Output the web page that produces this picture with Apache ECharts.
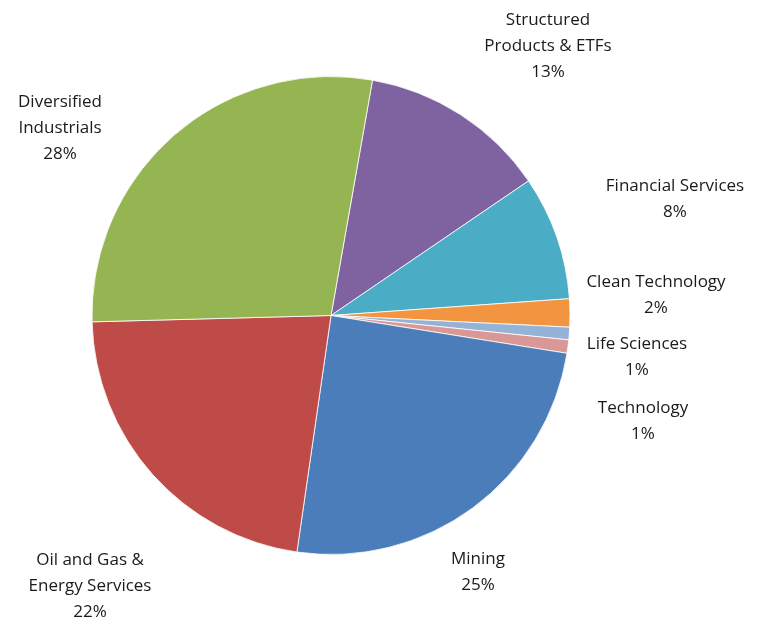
<!DOCTYPE html>
<html>
<head>
<meta charset="utf-8">
<script src="https://cdn.jsdelivr.net/npm/echarts@6/dist/echarts.min.js"></script>
<style>
html,body{margin:0;padding:0;background:#fff;}
#chart{width:769px;height:629px;}
</style>
</head>
<body>
<div id="chart"></div>
<script>
// Data (clockwise order, starting just right of 12 o'clock)
var categories = ['Structured\nProducts & ETFs', 'Financial Services', 'Clean Technology', 'Life Sciences', 'Technology', 'Mining', 'Oil and Gas &\nEnergy Services', 'Diversified\nIndustrials'];
var values = [12.7, 8.4, 1.9, 0.85, 0.9, 24.75, 22.3, 28.2];
var colors = ['#7F63A1', '#4AACC5', '#F39540', '#95B3D7', '#D99795', '#4A7DBA', '#BE4B48', '#94B552'];
// Label centres (x, y) in pixels
var labelPos = [[548, 46], [675, 199], [656, 295], [637, 357], [643, 421], [478, 572], [90, 586], [60, 128]];

var total = values.reduce(function (a, b) { return a + b; }, 0);
var data = categories.map(function (c, i) {
  return { name: c, value: values[i], itemStyle: { color: colors[i] } };
});

var chart = echarts.init(document.getElementById('chart'));
chart.setOption({
  animation: false,
  series: [{
    type: 'pie',
    center: [331, 315.5],
    radius: [0, 239],
    startAngle: 80,
    clockwise: true,
    data: data,
    itemStyle: { borderColor: '#ffffff', borderWidth: 0.8 },
    label: {
      show: true,
      position: 'outside',
      alignTo: 'none',
      overflow: 'none',
      formatter: function (p) { return p.name + '\n' + Math.round(p.value / total * 100) + '%'; },
      fontFamily: '"Open Sans", Lato, sans-serif',
      fontSize: 17,
      lineHeight: 26,
      color: '#1a1a1a',
      align: 'center'
    },
    labelLine: { show: false },
    labelLayout: function (params) {
      var p = labelPos[params.dataIndex];
      return { x: p[0], y: p[1], align: 'center', verticalAlign: 'middle' };
    },
    emphasis: { disabled: true }
  }]
});
</script>
</body>
</html>
